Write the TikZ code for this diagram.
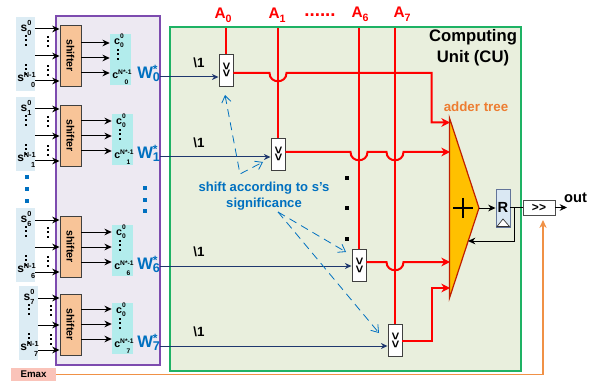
\documentclass[tikz,border=0pt]{standalone}
\usepackage{fontspec}
\setmainfont{Liberation Sans}
\usetikzlibrary{arrows.meta, positioning, calc}
\definecolor{busred}{RGB}{255,0,0}
\definecolor{wblue}{RGB}{0,112,192}
\definecolor{navy}{RGB}{31,56,110}
\definecolor{cugreen}{RGB}{30,178,100}
\definecolor{cufill}{RGB}{233,239,221}
\definecolor{grpborder}{RGB}{125,75,175}
\definecolor{grpfill}{RGB}{237,233,242}
\definecolor{sfill}{RGB}{220,236,244}
\definecolor{cfill}{RGB}{178,236,236}
\definecolor{shiftfill}{RGB}{248,196,152}
\definecolor{emaxfill}{RGB}{250,195,185}
\definecolor{amberline}{RGB}{240,145,70}
\definecolor{adderfill}{RGB}{255,192,0}
\definecolor{adderline}{RGB}{192,30,0}
\definecolor{regfill}{RGB}{218,232,243}
\newcommand{\sbsp}[4]{#1\rlap{\raisebox{.5em}{\fontsize{#4}{#4}\selectfont #2}}\raisebox{-.35em}{\fontsize{#4}{#4}\selectfont #3}}
\newcommand{\sbspwide}[4]{#1\rlap{\raisebox{.35em}{\fontsize{#4}{#4}\selectfont #2}}\hspace{.6em}\raisebox{-.55em}{\fontsize{#4}{#4}\selectfont #3}}
\newcommand{\wsbsp}[2]{W\rlap{\raisebox{.3em}{\fontsize{9}{9}\selectfont #1}}\raisebox{-.18em}{\fontsize{9.5}{9.5}\selectfont #2}}
\newcommand{\dotcol}[2]{\foreach \k in {0,1,2} \fill (#1-1,#2+\k*4.3) rectangle +(2,2);}
\tikzset{
  txt/.style={inner sep=0pt, font=\bfseries\fontsize{8}{8}\selectfont},
  sbox/.style={fill=sfill, minimum width=14.25pt, minimum height=55.5pt, inner sep=0pt},
  cbox/.style={fill=cfill, minimum width=15.75pt, minimum height=38.25pt, inner sep=0pt},
  shifterbox/.style={draw=black!75, line width=.7pt, fill=shiftfill, minimum width=15.75pt, minimum height=45.75pt, inner sep=0pt, font=\bfseries\fontsize{8}{8}\selectfont},
  vbox/.style={draw=black!75, line width=.7pt, fill=white, minimum width=10.5pt, minimum height=24pt, inner sep=0pt, font=\bfseries\fontsize{10}{10}\selectfont},
  sig/.style={-{Stealth[length=5.5pt,width=5pt]}, line width=.75pt},
  wire/.style={-{Stealth[length=5pt,width=4.5pt]}, navy, line width=.75pt},
  bus/.style={busred, line width=1.5pt},
  busin/.style={bus, -{Stealth[length=6.5pt,width=6.5pt]}},
  noteline/.style={wblue, dashed, dash pattern=on 6pt off 4pt, line width=.6pt},
  wlabel/.style={txt, wblue, font=\bfseries\fontsize{12.5}{12.5}\selectfont},
  alabel/.style={txt, busred, font=\bfseries\fontsize{11.5}{11.5}\selectfont},
  shamt/.style={txt, font=\bfseries\fontsize{10}{10}\selectfont},
}
\begin{document}
\begin{tikzpicture}[x=0.75pt, y=-0.75pt]
  \useasboundingbox (0,0) rectangle (596,381);
  \node[draw=grpborder, fill=grpfill, line width=.8pt, minimum width=78pt, minimum height=261.75pt, inner sep=0pt] (group) at (108,190.5) {};
  \node[draw=cugreen, fill=cufill, line width=1pt, minimum width=263.25pt, minimum height=258pt, inner sep=0pt] (cu) at (345.5,199) {};
  \node[txt, font=\bfseries\fontsize{12.5}{16}\selectfont, align=center] (cutitle) at (473,47.5) {Computing\\Unit (CU)};
  % input groups
  \foreach \g/\ty/\sx/\cx/\oy in {0/25/16/110/2, 1/105/16/112/0, 6/216/16/112/0, 7/294/19/112/-1} {
    \begin{scope}[shift={(0,\ty)}]
      \node[sbox] (s\g) at (\sx+9.5,29) {};
      \node[cbox] (c\g) at (\cx+10.5,34.5) {};
      \node[shifterbox] (shifter\g) at (70.5,30.5) {\rotatebox{-90}{shifter}};
      \foreach \y/\n in {4/a,31/b,56/c} {
        \coordinate (in\n) at (0,\y);
        \draw[sig] (s\g.east |- in\n) -- (shifter\g.west |- in\n);
      }
      \foreach \y/\n in {16/a,31/b,46/c} {
        \coordinate (out\n) at (0,\y+\oy);
        \draw[sig] (shifter\g.east |- out\n) -- (c\g.west |- out\n);
      }
      \node[txt, font=\bfseries\fontsize{9}{9}\selectfont] (s\g top) at (\sx+10,3) {\sbsp{s}{0}{\g}{5.5}};
      \node[txt, font=\bfseries\fontsize{9}{9}\selectfont, anchor=west] (s\g bot) at (\sx+1,55) {\sbspwide{s}{N-1}{\g}{5.5}};
      \dotcol{\sx+10}{10}
      \dotcol{\sx+10}{39}
      \dotcol{\sx+32}{11}
      \dotcol{\sx+32}{40}
      \node[txt, font=\bfseries\fontsize{8}{8}\selectfont] (c\g top) at (\cx+9,16) {\sbsp{c}{0}{0}{5}};
      \node[txt, font=\bfseries\fontsize{8}{8}\selectfont, anchor=west] (c\g bot) at (\cx+2,52) {\sbspwide{c}{N*-1}{\g}{5}};
      \dotcol{\cx+8}{24}
      \node[wlabel, anchor=west] (w\g) at (137,48) {\wsbsp{*}{\g}};
    \end{scope}
  }
  \foreach \px/\py in {27/177, 27/189, 27/201, 145/188, 145/200, 145/211}
    \fill[wblue] (\px-2,\py-2) rectangle +(4,4);
  % shift boxes and A lines
  \node[vbox] (v0) at (226,70) {\rotatebox{-90}{>{}>}};
  \node[vbox] (v1) at (278,154) {\rotatebox{-90}{>{}>}};
  \node[vbox] (v6) at (359,265) {\rotatebox{-90}{>{}>}};
  \node[vbox] (v7) at (395,340) {\rotatebox{-90}{>{}>}};
  \node[alabel] (a0) at (223,15) {A\raisebox{-.25em}{\fontsize{8}{8}\selectfont 0}};
  \node[alabel] (a1) at (277,15) {A\raisebox{-.25em}{\fontsize{8}{8}\selectfont 1}};
  \node[alabel, font=\bfseries\fontsize{14}{14}\selectfont] (adots) at (320,15) {......};
  \node[alabel] (a6) at (360,14) {A\raisebox{-.25em}{\fontsize{8}{8}\selectfont 6}};
  \node[alabel] (a7) at (402,14) {A\raisebox{-.25em}{\fontsize{8}{8}\selectfont 7}};
  \foreach \g/\wx in {0/226, 1/278, 6/359, 7/395} {
    \coordinate (atop\g) at (\wx,28);
    \draw[bus] (atop\g) -- (v\g.north);
  }
  % adder tree
  \coordinate (add0) at (450,122.5);
  \coordinate (add1) at (450,152);
  \coordinate (add6) at (450,262);
  \coordinate (add7) at (450,288);
  \draw[busin] (v0.east |- 0,73) -- (269.5,73) .. controls (269.5,84) and (286.5,84) .. (286.5,73) -- (431.5,73) |- (add0);
  \draw[busin] (v1.east |- 0,152) -- (350.5,152) .. controls (350.5,163) and (367.5,163) .. (367.5,152) -- (386.5,152) .. controls (386.5,163) and (403.5,163) .. (403.5,152) -- (add1);
  \draw[busin] (v6.east |- 0,262) -- (386.5,262) .. controls (386.5,273) and (403.5,273) .. (403.5,262) -- (add6);
  \draw[busin] (v7.east |- 0,341) -- (431.5,341) |- (add7);
  \coordinate (addtop) at (449.5,118);
  \coordinate (addout) at (479,208);
  \coordinate (addbot) at (449.5,298);
  \draw[adderline, fill=adderfill, line width=.9pt] (addtop) -- (addout) -- (addbot) -- cycle;
  \draw[line width=1.3pt] (453,208) -- (473,208) (463,198) -- (463,218);
  \node[txt, font=\bfseries\fontsize{10}{10}\selectfont, text={rgb,255:red,237;green,125;blue,49}] (addlabel) at (476,107) {adder tree};
  % register and output
  \node[draw=navy!70, fill=regfill, line width=.7pt, minimum width=10.5pt, minimum height=28.5pt, inner sep=0pt] (reg) at (503,208) {};
  \node[txt, font=\bfseries\fontsize{11}{11}\selectfont] (regname) at (503,207) {R};
  \draw[black!80, fill=white, line width=.5pt] (497,226.5) -- (503,219) -- (509.5,226.5) -- cycle;
  \node[draw=black!70, fill=white, line width=.7pt, minimum width=24pt, minimum height=11.25pt, inner sep=0pt, font=\bfseries\fontsize{9}{9}\selectfont] (shout) at (539,207.5) {>{}>};
  \node[txt, font=\bfseries\fontsize{11}{11}\selectfont] (outlabel) at (575.5,198) {out};
  \coordinate (outend) at (567,207.5);
  \coordinate (fb) at (514,207.5);
  \coordinate (fbend) at (468,241);
  \draw[sig] (addout) -- (reg.west |- addout);
  \draw[line width=.75pt] (reg.east |- fb) -- (shout.west);
  \draw[sig] (fb) |- (fbend);
  \draw[sig] (shout.east) -- (outend);
  \node[fill=emaxfill, minimum width=33.75pt, minimum height=10.5pt, inner sep=0pt, font=\bfseries\fontsize{7.3}{7.3}\selectfont] (emax) at (33.5,374.5) {Emax};
  \coordinate (emaxend) at (543,220);
  \draw[amberline, line width=.8pt, -{Stealth[length=6pt,width=5.5pt]}] (emax.east) -| (emaxend);
  % word lines
  \foreach \g/\y in {0/77, 1/157, 6/266, 7/346} {
    \coordinate (wy\g) at (160,\y);
    \draw[wire] (wy\g) -- (v\g.west |- wy\g);
    \node[shamt] (sh\g) at (199,\y-14) {\textbackslash 1};
  }
  % note
  \node[txt, wblue, font=\bfseries\fontsize{9.8}{12}\selectfont, align=center] (note) at (264,196.5) {shift according to s's\\significance};
  \coordinate (nt0) at (225,95);
  \coordinate (nt1) at (263,162);
  \coordinate (elbow) at (240,174);
  \coordinate (fan) at (278,212);
  \coordinate (nt6) at (346,252);
  \coordinate (nt7) at (379,333);
  \draw[noteline, {Straight Barb[length=5pt,width=7pt]}-{Straight Barb[length=5pt,width=7pt]}] (nt0) -- (elbow) -- (nt1);
  \draw[noteline, -{Straight Barb[length=5pt,width=7pt]}] (fan) -- (nt6);
  \draw[noteline, -{Straight Barb[length=5pt,width=7pt]}] (fan) -- (nt7);
  \foreach \py in {178, 208, 239}
    \fill (345,\py-2) rectangle +(4,4);
\end{tikzpicture}
\end{document}
